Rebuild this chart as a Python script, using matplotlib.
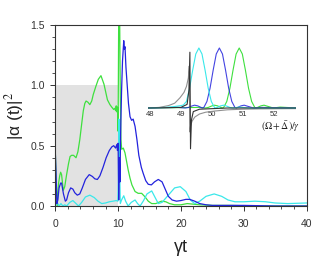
import matplotlib
matplotlib.use("Agg")
import matplotlib.pyplot as plt
from matplotlib.ticker import MultipleLocator

plt.rcParams['font.family'] = ['Liberation Sans', 'DejaVu Sans']
plt.rcParams['mathtext.fontset'] = 'stix'

# main panel: |alpha(t)|^2 vs gamma*t
green_t = [0, 0.15, 0.3, 0.5, 0.7, 0.85, 1.0, 1.27, 1.5, 1.8,
           2.1, 2.35, 2.6, 2.9, 3.3, 3.6, 3.9, 4.2, 4.46, 4.7,
           4.9, 5.2, 5.5, 5.8, 6.05, 6.45, 6.85, 7.27, 7.75, 8.3,
           8.7, 8.98, 9.3, 9.5, 9.6, 9.7, 9.8, 9.9, 10.0, 10.1,
           10.15, 10.25, 10.35, 10.45, 10.57, 10.83, 11.1, 11.35, 11.6, 11.9,
           12.2, 12.7, 13.2, 13.75, 14.3, 14.8, 15.35, 16.0, 16.9, 17.6,
           18.2, 19.0, 20.0, 21.0, 23.0, 25.0, 28.0, 32.0, 40.0]
green_y = [0.45, 0.2, 0.0, 0.18, 0.25, 0.28, 0.26, 0.13, 0.16, 0.26,
           0.35, 0.41, 0.42, 0.42, 0.40, 0.45, 0.55, 0.68, 0.79, 0.85,
           0.87, 0.86, 0.84, 0.87, 0.925, 0.99, 1.05, 1.08, 1.01, 0.88,
           0.84, 0.82, 0.80, 0.81, 0.79, 0.83, 0.78, 0.82, 0.62, 1.6,
           1.6, 1.55, 0.9, 0.55, 0.47, 0.48, 0.44, 0.37, 0.30, 0.23,
           0.175, 0.12, 0.105, 0.105, 0.075, 0.04, 0.02, 0.02, 0.04, 0.035,
           0.02, 0.01, 0.01, 0.02, 0.01, 0.005, 0.005, 0.0, 0.0]

blue_t = [0, 0.1, 0.25, 0.4, 0.6, 0.85, 1.0, 1.3, 1.6, 1.8,
          2.1, 2.45, 2.8, 3.1, 3.5, 3.9, 4.3, 4.8, 5.4, 5.9,
          6.3, 6.7, 7.1, 7.6, 8.1, 8.6, 9.0, 9.3, 9.6, 9.8,
          9.9, 10.0, 10.1, 10.2, 10.3, 10.4, 10.55, 10.7, 10.9, 11.0,
          11.1, 11.25, 11.45, 11.65, 11.9, 12.15, 12.4, 12.7, 13.0, 13.3,
          13.7, 14.0, 14.4, 14.8, 15.3, 15.8, 16.4, 17.0, 17.5, 18.0,
          18.6, 19.3, 20.0, 20.8, 21.4, 22.2, 23.0, 24.0, 25.0, 27.0,
          30.0, 35.0, 40.0]
blue_y = [0.45, 0.3, 0.02, 0.05, 0.15, 0.19, 0.19, 0.1, 0.04, 0.05,
          0.11, 0.15, 0.14, 0.11, 0.09, 0.1, 0.15, 0.22, 0.26, 0.245,
          0.225, 0.22, 0.25, 0.32, 0.4, 0.46, 0.49, 0.5, 0.48, 0.51,
          0.46, 0.52, 0.05, 0.4, 0.2, 0.6, 0.95, 1.2, 1.37, 1.3,
          1.32, 1.15, 1.0, 0.85, 0.74, 0.71, 0.72, 0.66, 0.55, 0.42,
          0.32, 0.27, 0.21, 0.18, 0.175, 0.2, 0.22, 0.2, 0.14, 0.08,
          0.05, 0.04, 0.045, 0.055, 0.055, 0.04, 0.02, 0.01, 0.005, 0.005,
          0.005, 0.0, 0.0]

cyan_t = [0, 0.3, 0.6, 0.9, 1.2, 1.5, 1.8, 2.3, 2.8, 3.3,
          3.7, 4.2, 4.8, 5.5, 6.2, 6.8, 7.4, 8.0, 8.6, 9.2,
          9.7, 9.95, 10.05, 10.12, 10.2, 10.25, 10.35, 10.55, 10.9, 11.2,
          11.6, 12.1, 12.7, 13.1, 13.5, 14.0, 14.6, 15.35, 15.9, 16.4,
          17.0, 18.0, 19.0, 19.9, 20.8, 21.5, 22.2, 23.0, 24.0, 25.3,
          26.5, 27.5, 28.6, 30.0, 31.8, 33.5, 35.0, 37.0, 40.0]
cyan_y = [0.0, 0.03, 0.0, 0.02, 0.0, 0.01, 0.0, 0.03, 0.045, 0.02,
          0.0, 0.03, 0.075, 0.09, 0.07, 0.04, 0.02, 0.025, 0.035, 0.04,
          0.045, 0.04, 0.2, 0.72, 0.68, 0.3, 0.02, 0.05, 0.085, 0.04,
          0.0, 0.03, 0.05, 0.02, 0.0, 0.04, 0.1, 0.125, 0.07, 0.02,
          0.03, 0.09, 0.15, 0.16, 0.12, 0.05, 0.02, 0.04, 0.08, 0.1,
          0.08, 0.05, 0.035, 0.035, 0.04, 0.035, 0.025, 0.02, 0.025]

shade_t = [0, 10]
shade_top = 1.0

# inset: spectra vs (Omega + Delta)/gamma
in_cyan_x = [47.94, 48.5, 48.8, 49.0, 49.08, 49.18, 49.28, 49.38, 49.48, 49.58,
             49.68, 49.78, 49.88, 49.98, 50.08, 50.13, 50.28, 50.38, 50.48, 50.58,
             50.68, 50.88, 51.2, 52.71]
in_cyan_y = [0, 0.01, 0.025, 0.04, 0.05, 0.11, 0.33, 0.63, 0.9, 1.0,
             0.9, 0.63, 0.33, 0.11, 0.01, 0.0, 0.036, 0.047, 0.031, 0.009,
             0.0, 0.015, 0.0, 0.0]
in_blue_x = [47.94, 48.9, 49.14, 49.24, 49.34, 49.44, 49.54, 49.69, 49.74, 49.84,
             49.94, 50.04, 50.14, 50.24, 50.34, 50.44, 50.54, 50.64, 50.74, 50.79,
             50.94, 51.04, 51.14, 51.34, 51.6, 52.71]
in_blue_y = [0, 0.01, 0.0, 0.009, 0.031, 0.047, 0.036, 0.0, 0.01, 0.11,
             0.33, 0.63, 0.9, 1.0, 0.9, 0.63, 0.33, 0.11, 0.01, 0.0,
             0.036, 0.047, 0.031, 0.0, 0.01, 0.0]
in_green_x = [47.94, 49.6, 49.78, 49.88, 49.98, 50.08, 50.18, 50.33, 50.38, 50.48,
              50.58, 50.68, 50.78, 50.88, 50.98, 51.08, 51.18, 51.28, 51.38, 51.43,
              51.58, 51.68, 51.78, 51.98, 52.2, 52.71]
in_green_y = [0, 0.01, 0.0, 0.009, 0.031, 0.047, 0.036, 0.0, 0.01, 0.11,
              0.33, 0.63, 0.9, 1.0, 0.9, 0.63, 0.33, 0.11, 0.01, 0.0,
              0.036, 0.047, 0.031, 0.0, 0.015, 0.0]
in_gray_x = [47.94, 48.3, 48.6, 48.8, 48.97, 49.1, 49.18, 49.24, 49.27, 49.29,
             49.31, 49.36, 49.45, 49.6, 49.8, 50.1, 50.5, 51.0, 51.5, 52.71]
in_gray_y = [0, 0.01, 0.04, 0.08, 0.17, 0.26, 0.36, 0.5, 0.7, -0.4,
             -0.3, -0.22, -0.15, -0.1, -0.07, -0.05, -0.03, -0.02, -0.015, -0.01]
in_black_x = [47.94, 49.0, 49.2, 49.26, 49.29, 49.3, 49.31, 49.34, 49.4, 49.6, 50.5, 52.71]
in_black_y = [0, 0.01, 0.06, 0.3, 0.93, 0.1, -0.68, -0.2, -0.06, -0.02, 0, 0]
in_ticks = [48, 49, 50, 51, 52]

GREEN = '#3ee03e'
BLUE = '#2323dd'
CYAN = '#3ae8ea'

fig = plt.figure(figsize=(3.2, 2.59), dpi=100)
ax = fig.add_axes([55.3 / 320, 53 / 259, 251.2 / 320, 181 / 259])

ax.fill_between(shade_t, 0, shade_top, color='#e2e2e2', lw=0, zorder=0)
ax.plot(green_t, green_y, color=GREEN, lw=0.9)
ax.plot(cyan_t, cyan_y, color=CYAN, lw=0.9)
ax.plot(blue_t, blue_y, color=BLUE, lw=0.9)

ax.set_xlim(0, 40)
ax.set_ylim(0, 1.5)
ax.xaxis.set_major_locator(MultipleLocator(10))
ax.xaxis.set_minor_locator(MultipleLocator(2))
ax.yaxis.set_major_locator(MultipleLocator(0.5))
ax.yaxis.set_minor_locator(MultipleLocator(0.1))
ax.yaxis.set_major_formatter(plt.FuncFormatter(lambda v, p: f"{v:.1f}"))
ax.tick_params(which='major', direction='out', length=3.5, width=0.7,
               labelsize=7.5, colors='#333333')
ax.tick_params(which='minor', direction='out', length=2, width=0.6, colors='#333333')
ax.tick_params(axis='x', pad=6)
ax.tick_params(axis='y', pad=4)
for s in ax.spines.values():
    s.set_linewidth(0.8)
    s.set_color('#333333')

fig.text(15 / 320, 1 - 116 / 259, "|α (t)|$^2$", rotation=90, ha='center', va='center',
         fontsize=12.5, color='#222222')
fig.text(181 / 320, 1 - 248 / 259, "γt", ha='center', va='center',
         fontsize=13, color='#222222')

# inset
ins = fig.add_axes([148 / 320, 1 - 150 / 259, 148 / 320, 108 / 259])
ins.patch.set_alpha(0)
ins.plot(in_gray_x, in_gray_y, color='#909090', lw=0.8)
ins.plot(in_green_x, in_green_y, color=GREEN, lw=0.8)
ins.plot(in_blue_x, in_blue_y, color=BLUE, lw=0.8, alpha=0.85)
ins.plot(in_cyan_x, in_cyan_y, color=CYAN, lw=0.8)
ins.plot(in_black_x, in_black_y, color='#333333', lw=0.8)
ins.set_xlim(47.94, 52.71)
ins.set_ylim(-0.7, 1.1)
for k in ['left', 'right', 'top']:
    ins.spines[k].set_visible(False)
ins.spines['bottom'].set_position(('data', 0))
ins.spines['bottom'].set_visible(False)
ins.set_yticks([])
ins.set_xticks(in_ticks)
ins.tick_params(axis='x', length=0, pad=2.5, labelsize=5.5, colors='#333333')
fig.text(281 / 320, 1 - 127 / 259, r'$(\Omega+\bar{\Delta})/\gamma$', ha='center', va='center',
         fontsize=7, color='#222222')

fig.savefig("out.png", dpi=100)
